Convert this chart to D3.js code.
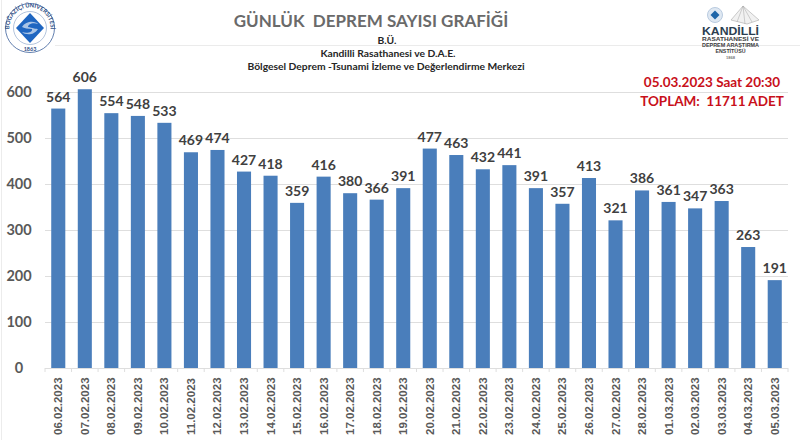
<!DOCTYPE html>
<html lang="tr">
<head>
    <meta charset="UTF-8">
    <title>Günlük Deprem Sayısı Grafiği</title>
    <script src="https://d3js.org/d3.v7.min.js"></script>
    <style>
        html, body { margin: 0; padding: 0; background: #fff; }
        svg { display: block; }
        text { font-family: Lato, "Open Sans", sans-serif; }
        .grid { stroke: #dedede; stroke-width: 1; }
        .bar { fill: #4a7ebb; }
        .value { font-size: 14px; font-weight: 700; fill: #404040; text-anchor: middle; }
        .ytick { font-size: 14.5px; font-weight: 700; fill: #595959; text-anchor: middle; }
        .xtick { font-family: "Liberation Sans", sans-serif; font-size: 11.5px; font-weight: 700; fill: #595959; }
        .sub { font-size: 10.3px; font-weight: 700; fill: #262626; text-anchor: middle; }
        .red { font-size: 13.5px; font-weight: 700; fill: #c8101a; text-anchor: middle; }
        .klogo { font-family: "Liberation Sans", sans-serif; font-weight: 700; text-anchor: middle; }
    </style>
</head>
<body>
<svg width="800" height="440"></svg>
<script>
    const dates = ["06.02.2023", "07.02.2023", "08.02.2023", "09.02.2023", "10.02.2023", "11.02.2023", "12.02.2023",
        "13.02.2023", "14.02.2023", "15.02.2023", "16.02.2023", "17.02.2023", "18.02.2023", "19.02.2023",
        "20.02.2023", "21.02.2023", "22.02.2023", "23.02.2023", "24.02.2023", "25.02.2023", "26.02.2023",
        "27.02.2023", "28.02.2023", "01.03.2023", "02.03.2023", "03.03.2023", "04.03.2023", "05.03.2023"];
    const counts = [564, 606, 554, 548, 533, 469, 474, 427, 418, 359, 416, 380, 366, 391,
        477, 463, 432, 441, 391, 357, 413, 321, 386, 361, 347, 363, 263, 191];
    const yTicks = [0, 100, 200, 300, 400, 500, 600];

    const svg = d3.select("svg");

    const x = d3.scaleBand().domain(dates).range([45, 788]).paddingInner(0.47).paddingOuter(0.235);
    const y = d3.scaleLinear().domain([0, 600]).range([368, 92]);

    // frame and header rule
    svg.append("line").attr("x1", 1.5).attr("x2", 1.5).attr("y1", 0).attr("y2", 440).attr("stroke", "#ececec");
    svg.append("line").attr("x1", 55).attr("x2", 800).attr("y1", 45.5).attr("y2", 45.5).attr("stroke", "#ebebeb");

    // gridlines
    svg.append("g").selectAll("line").data(yTicks).enter().append("line")
        .attr("class", "grid")
        .attr("x1", 45).attr("x2", 788)
        .attr("y1", d => Math.round(y(d)) + 0.5).attr("y2", d => Math.round(y(d)) + 0.5);

    // x axis ticks between categories
    const step = x.step();
    svg.append("g").selectAll("line").data(dates).enter().append("line")
        .attr("x1", d => x(d) + x.bandwidth() / 2 - step / 2)
        .attr("x2", d => x(d) + x.bandwidth() / 2 - step / 2)
        .attr("y1", 368).attr("y2", 372).attr("stroke", "#dedede");
    svg.append("line").attr("x1", 788).attr("x2", 788).attr("y1", 368).attr("y2", 372).attr("stroke", "#dedede");

    svg.append("g").selectAll("rect").data(counts).enter().append("rect")
        .attr("class", "bar")
        .attr("x", (d, i) => x(dates[i]))
        .attr("y", d => y(d))
        .attr("width", x.bandwidth())
        .attr("height", d => y(0) - y(d));

    svg.append("g").selectAll("text").data(counts).enter().append("text")
        .attr("class", "value")
        .attr("x", (d, i) => x(dates[i]) + x.bandwidth() / 2)
        .attr("y", d => y(d) - 7)
        .text(d => d);

    svg.append("g").selectAll("text").data(yTicks).enter().append("text")
        .attr("class", "ytick")
        .attr("x", 19)
        .attr("y", d => y(d) + 5)
        .text(d => d);

    svg.append("g").selectAll("text").data(dates).enter().append("text")
        .attr("class", "xtick")
        .attr("transform", d => `translate(${x(d) + x.bandwidth() / 2 + 4},435) rotate(-90)`)
        .text(d => d);

    // titles
    svg.append("text").attr("x", 371).attr("y", 27).attr("text-anchor", "middle")
        .attr("font-size", 17).attr("font-weight", 700).attr("fill", "#6a6a6a")
        .style("white-space", "pre")
        .text("GÜNLÜK  DEPREM SAYISI GRAFİĞİ");
    svg.append("text").attr("class", "sub").attr("x", 387).attr("y", 44).text("B.Ü.");
    svg.append("text").attr("class", "sub").attr("x", 388).attr("y", 57).text("Kandilli Rasathanesi ve D.A.E.");
    svg.append("text").attr("class", "sub").attr("x", 386).attr("y", 70).text("Bölgesel Deprem -Tsunami İzleme ve Değerlendirme Merkezi");

    svg.append("text").attr("class", "red").attr("x", 712).attr("y", 87).text("05.03.2023 Saat 20:30");
    svg.append("text").attr("class", "red").attr("x", 712).attr("y", 106)
        .style("white-space", "pre").text("TOPLAM:  11711 ADET");

    // Bogazici logo
    const bu = svg.append("g").attr("transform", "translate(30,28)");
    bu.append("circle").attr("r", 24.5).attr("fill", "#fff").attr("stroke", "#3b5f9a").attr("stroke-width", 0.8);
    bu.append("circle").attr("r", 16.5).attr("fill", "#fff").attr("stroke", "#7f9cc4").attr("stroke-width", 0.6);
    bu.append("path").attr("d", "M0,-15L14,0L0,15L-14,0Z").attr("fill", "#1f66c1");
    bu.append("path").attr("d", "M-8,-1C-4,-8 6,-7 8,-4C3,-6 -2,-4 -2,-1C2,0 7,1 8,1C4,8 -5,7 -8,4C-3,6 3,4 2,1C-2,1 -6,0 -8,-1Z").attr("fill", "#a9c4e6");
    bu.append("defs").append("path").attr("id", "buArc").attr("d", "M-18,10A20.6,20.6 0 1,1 18,10");
    bu.append("text").attr("font-size", 5.8).attr("font-weight", 700).attr("fill", "#2f4f86")
        .append("textPath").attr("href", "#buArc").attr("startOffset", "50%").attr("text-anchor", "middle")
        .text("BOĞAZİÇİ ÜNİVERSİTESİ");
    bu.append("text").attr("y", 22.5).attr("text-anchor", "middle").attr("font-size", 5.5).attr("font-weight", 700)
        .attr("fill", "#2f4f86").text("1863");

    // Kandilli logo
    const kl = svg.append("g");
    kl.append("circle").attr("cx", 715).attr("cy", 15).attr("r", 7.5).attr("fill", "#dfe8f2").attr("stroke", "#b9cbe0");
    kl.append("path").attr("d", "M715,10.5L719.5,15L715,19.5L710.5,15Z").attr("fill", "#1f66a8");
    kl.append("path").attr("d", "M743,6L759,20L747,24L731,20Z").attr("fill", "#f1f1f1").attr("stroke", "#b5b5b5").attr("stroke-width", 0.7);
    kl.append("path").attr("d", "M743,6L745,24M743,6L737,22M743,6L752,22").attr("stroke", "#a5a5a5").attr("stroke-width", 0.5);
    const klText = [["KANDİLLİ", 34.5, 11, 57, "#2c3e50"], ["RASATHANESİ VE", 41, 5, 57, "#3c3c3c"],
        ["DEPREM ARAŞTIRMA", 47.2, 5, 57, "#3c3c3c"], ["ENSTİTÜSÜ", 53, 4.6, 30, "#3c3c3c"], ["1868", 58.5, 3.4, 9, "#777"]];
    kl.selectAll("text").data(klText).enter().append("text")
        .attr("class", "klogo")
        .attr("x", 730.5).attr("y", d => d[1])
        .attr("font-size", d => d[2])
        .attr("textLength", d => d[3]).attr("lengthAdjust", "spacingAndGlyphs")
        .attr("fill", d => d[4])
        .text(d => d[0]);
</script>
</body>
</html>
